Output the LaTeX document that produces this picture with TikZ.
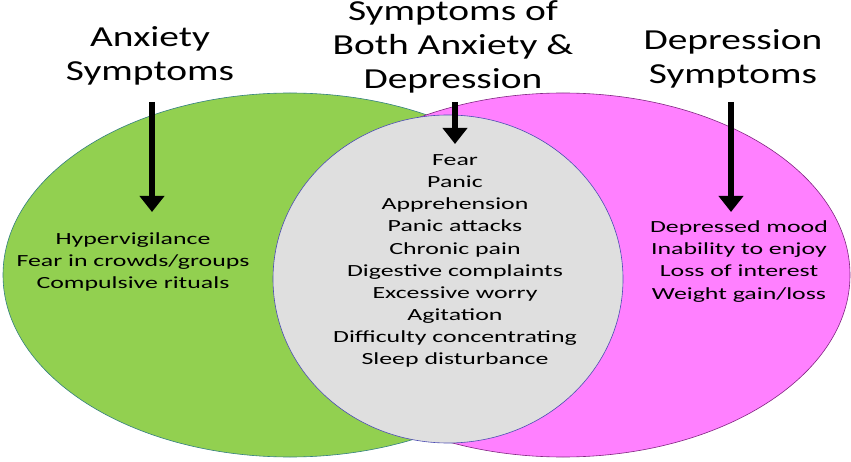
\documentclass[tikz,border=0pt]{standalone}
\usepackage{fontspec}
\setmainfont{Carlito}
\newfontfamily\titlefont[FakeStretch=1.36]{Carlito}
\newfontfamily\listfont[FakeStretch=1.52]{Carlito}
\usetikzlibrary{arrows.meta}
\definecolor{anxgreen}{HTML}{92D050}
\definecolor{deppink}{HTML}{FF80FF}
\definecolor{bothgray}{HTML}{DFDFDF}
\begin{document}
\begin{tikzpicture}[x=1pt,y=-1pt,
  title/.style={font=\titlefont\fontsize{29}{34}\selectfont, align=center, text=black},
  items/.style={font=\listfont\fontsize{17}{22.1}\selectfont, align=center, text=black},
  bigarrow/.style={line width=5.5pt, -{Triangle[width=24pt,length=16pt]}}]
\useasboundingbox (0,0) rectangle (851,462);
\fill[white] (0,0) rectangle (851,462);
\draw[fill=anxgreen, draw=teal!60!gray, line width=0.6pt] (290,275) ellipse [x radius=287, y radius=182];
\draw[fill=deppink, draw=violet!70!gray, line width=0.6pt] (563,275) ellipse [x radius=287, y radius=182];
\draw[fill=bothgray, draw=blue!40!gray, line width=0.6pt] (448,279) ellipse [x radius=175, y radius=164];
\node[title] (anx) at (150,56) {Anxiety\\Symptoms};
\node[title] (both) at (453,47) {Symptoms of\\Both Anxiety \&\\Depression};
\node[title] (dep) at (733,59) {Depression\\Symptoms};
\coordinate (a1) at (152,102); \coordinate (a2) at (152,212);
\coordinate (b1) at (455,102); \coordinate (b2) at (455,144);
\coordinate (c1) at (731,102); \coordinate (c2) at (731,212);
\draw[bigarrow] (a1) -- (a2);
\draw[bigarrow] (b1) -- (b2);
\draw[bigarrow] (c1) -- (c2);
\node[items] (anxlist) at (133,262) {Hypervigilance\\Fear in crowds/groups\\Compulsive rituals};
\node[items] (bothlist) at (455,261) {Fear\\Panic\\Apprehension\\Panic attacks\\Chronic pain\\Digestive complaints\\Excessive worry\\Agitation\\Difficulty concentrating\\Sleep disturbance};
\node[items] (deplist) at (739,261.5) {Depressed mood\\Inability to enjoy\\Loss of interest\\Weight gain/loss};
\end{tikzpicture}
\end{document}
